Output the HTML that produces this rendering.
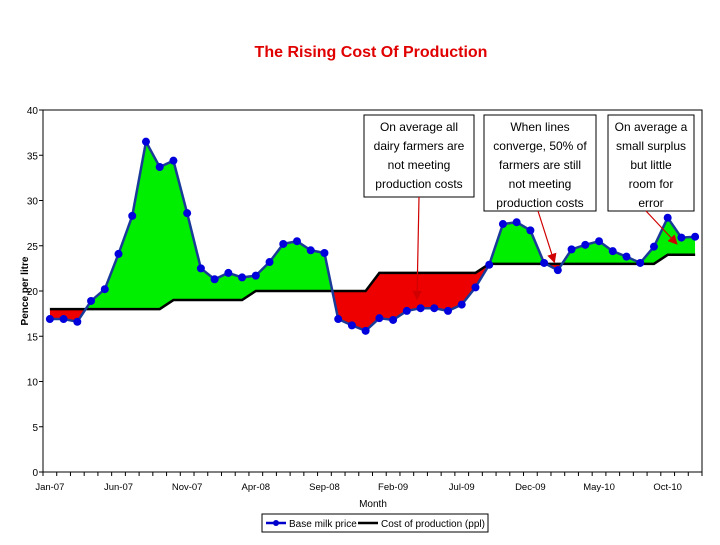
<!DOCTYPE html>
<html><head><meta charset="utf-8"><style>
body{margin:0;background:#fff;}
svg text{font-family:"Liberation Sans",sans-serif;}
</style></head><body>
<svg width="720" height="540" xmlns="http://www.w3.org/2000/svg" id="chart">
<text x="371" y="57" text-anchor="middle" font-size="16" font-weight="bold" fill="#e00000">The Rising Cost Of Production</text>
<defs>
 <clipPath id="above"><path id="abovePath"/></clipPath>
 <clipPath id="below"><path id="belowPath"/></clipPath>
 <marker id="arr" markerWidth="8" markerHeight="8" refX="6" refY="4" orient="auto"><path d="M0,0 L8,4 L0,8 z" fill="#d00000"/></marker>
</defs>
<rect x="43" y="110" width="659" height="362" fill="none" stroke="#000" stroke-width="1"/>
<g id="fills"></g>
<g id="lines"></g>
<g id="axes"></g>
<text x="373" y="507" text-anchor="middle" font-size="10">Month</text>
<text transform="translate(28,291) rotate(-90)" text-anchor="middle" font-size="10" font-weight="bold">Pence per litre</text>
<g>
<rect x="364" y="115" width="110" height="82" fill="#fff" stroke="#000"/>
<text font-size="12" text-anchor="middle"><tspan x="419" y="131">On average all</tspan><tspan x="419" y="150">dairy farmers are</tspan><tspan x="419" y="169">not meeting</tspan><tspan x="419" y="188">production costs</tspan></text>
<line x1="419" y1="197" x2="417" y2="298" stroke="#d00000" stroke-width="1.2" marker-end="url(#arr)"/>
</g>
<g>
<rect x="484" y="115" width="112" height="96" fill="#fff" stroke="#000"/>
<text font-size="12" text-anchor="middle"><tspan x="540" y="131">When lines</tspan><tspan x="540" y="150">converge, 50% of</tspan><tspan x="540" y="169">farmers are still</tspan><tspan x="540" y="188">not meeting</tspan><tspan x="540" y="207">production costs</tspan></text>
<line x1="538" y1="211" x2="554" y2="261" stroke="#d00000" stroke-width="1.2" marker-end="url(#arr)"/>
</g>
<g>
<rect x="608" y="115" width="86" height="96" fill="#fff" stroke="#000"/>
<text font-size="12" text-anchor="middle"><tspan x="651" y="131">On average a</tspan><tspan x="651" y="150">small surplus</tspan><tspan x="651" y="169">but little</tspan><tspan x="651" y="188">room for</tspan><tspan x="651" y="207">error</tspan></text>
<line x1="646" y1="211" x2="676" y2="243" stroke="#d00000" stroke-width="1.2" marker-end="url(#arr)"/>
</g>
<g>
<rect x="262" y="514" width="226" height="18" fill="#fff" stroke="#000"/>
<line x1="266" y1="523" x2="286" y2="523" stroke="#0000cc" stroke-width="2.5"/>
<circle cx="276" cy="523" r="3" fill="#0000cc"/>
<text x="289" y="527" font-size="10">Base milk price</text>
<line x1="358" y1="523" x2="378" y2="523" stroke="#000" stroke-width="2.5"/>
<text x="381" y="527" font-size="10">Cost of production (ppl)</text>
</g>
</svg>
<script>
const months=["Jan-07","Feb-07","Mar-07","Apr-07","May-07","Jun-07","Jul-07","Aug-07","Sep-07","Oct-07","Nov-07","Dec-07","Jan-08","Feb-08","Mar-08","Apr-08","May-08","Jun-08","Jul-08","Aug-08","Sep-08","Oct-08","Nov-08","Dec-08","Jan-09","Feb-09","Mar-09","Apr-09","May-09","Jun-09","Jul-09","Aug-09","Sep-09","Oct-09","Nov-09","Dec-09","Jan-10","Feb-10","Mar-10","Apr-10","May-10","Jun-10","Jul-10","Aug-10","Sep-10","Oct-10","Nov-10","Dec-10"];
const tickLabels=["Jan-07","Jun-07","Nov-07","Apr-08","Sep-08","Feb-09","Jul-09","Dec-09","May-10","Oct-10"];
const price=[16.9,16.9,16.6,18.9,20.2,24.1,28.3,36.5,33.7,34.4,28.6,22.5,21.3,22,21.5,21.7,23.2,25.2,25.5,24.5,24.2,16.9,16.2,15.6,17,16.8,17.8,18.1,18.1,17.8,18.5,20.4,22.9,27.4,27.6,26.7,23.1,22.3,24.6,25.1,25.5,24.4,23.8,23.1,24.9,28.1,25.9,26.0];
const cost=[18,18,18,18,18,18,18,18,18,19,19,19,19,19,19,20,20,20,20,20,20,20,20,20,22,22,22,22,22,22,22,22,23,23,23,23,23,23,23,23,23,23,23,23,23,24,24,24];
const yTicks=[0,5,10,15,20,25,30,35,40];
const X0=43,X1=702,Y0=472,Y1=110;
const bw=(X1-X0)/months.length;
const xs=i=>X0+bw*(i+0.5);
const ys=v=>Y0-(v/40)*(Y0-Y1);
const NS="http://www.w3.org/2000/svg";
function mk(t,a,p){const e=document.createElementNS(NS,t);for(const k in a)e.setAttribute(k,a[k]);p.appendChild(e);return e;}
const pl=price.map((v,i)=>xs(i)+","+ys(v));
const cl=cost.map((v,i)=>xs(i)+","+ys(v));
document.getElementById('abovePath').setAttribute('d',"M"+xs(0)+","+Y1+" L"+cl.join(" L")+" L"+xs(47)+","+Y1+"Z");
document.getElementById('belowPath').setAttribute('d',"M"+xs(0)+","+Y0+" L"+cl.join(" L")+" L"+xs(47)+","+Y0+"Z");
const band="M"+pl.join(" L")+" L"+cl.slice().reverse().join(" L")+"Z";
const fills=document.getElementById('fills');
const g1=mk('path',{d:band,fill:'#00ee00','clip-path':'url(#above)'},fills);


const r1=mk('path',{d:band,fill:'#ee0000','clip-path':'url(#below)'},fills);


const lines=document.getElementById('lines');
const cLine=mk('polyline',{points:cl.join(" "),fill:'none',stroke:'#000','stroke-width':2.5},lines);


const pLine=mk('polyline',{points:pl.join(" "),fill:'none',stroke:'#1a3a9a','stroke-width':2.5},lines);


price.forEach((v,i)=>{const c=mk('circle',{cx:xs(i),cy:ys(v),r:4,fill:'#0000dd'},lines);

});
const ax=document.getElementById('axes');
yTicks.forEach(t=>{mk('line',{x1:X0-4,x2:X0,y1:ys(t),y2:ys(t),stroke:'#000'},ax);
const tx=mk('text',{x:X0-5,y:ys(t)+4,'text-anchor':'end','font-size':10},ax);tx.textContent=t;

});
for(let i=0;i<=months.length;i++)mk('line',{x1:X0+bw*i,x2:X0+bw*i,y1:Y0,y2:Y0+4,stroke:'#000'},ax);
tickLabels.forEach(l=>{const i=months.indexOf(l);const tx=mk('text',{x:xs(i),y:Y0+18,'text-anchor':'middle','font-size':9.5},ax);tx.textContent=l;

});
</script>
</body></html>
